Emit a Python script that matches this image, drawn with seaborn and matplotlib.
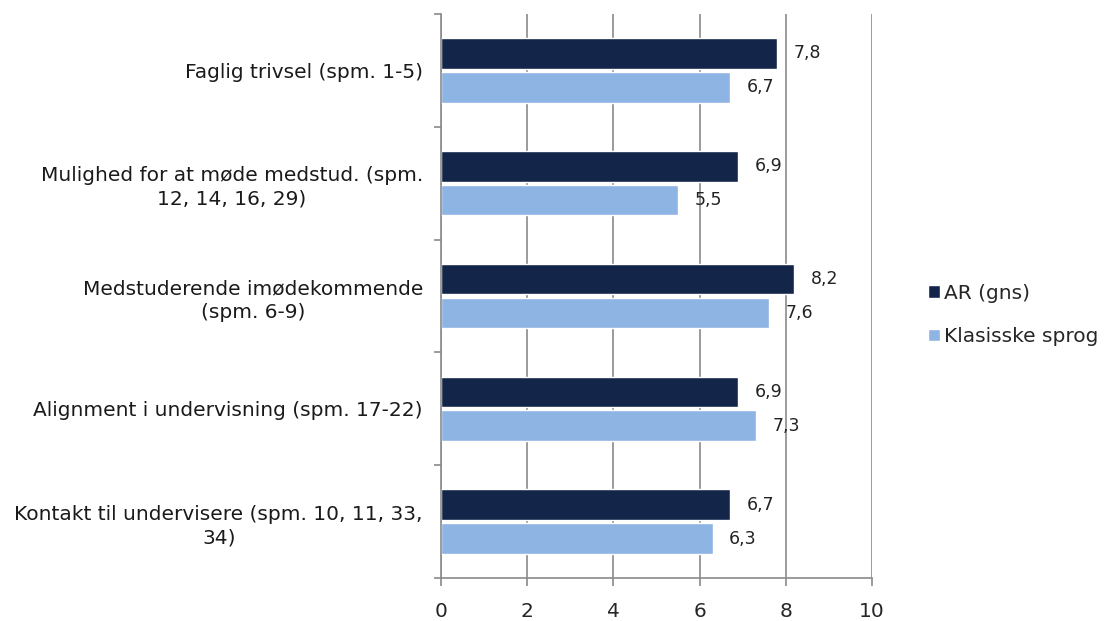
import numpy as np
import pandas as pd
import matplotlib
matplotlib.use("Agg")
import matplotlib.pyplot as plt
import seaborn as sns

# Data
categories = [
    "Faglig trivsel (spm. 1-5)",
    "Mulighed for at møde medstud. (spm.\n12, 14, 16, 29)",
    "Medstuderende imødekommende\n(spm. 6-9)",
    "Alignment i undervisning (spm. 17-22)",
    "Kontakt til undervisere (spm. 10, 11, 33,\n34)",
]
ar_values = [7.8, 6.9, 8.2, 6.9, 6.7]
klassisk_values = [6.7, 5.5, 7.6, 7.3, 6.3]
series_names = ["AR (gns)", "Klasisske sprog"]
colors = ["#13264A", "#8EB4E3"]

df = pd.DataFrame({
    "kategori": categories * 2,
    "værdi": ar_values + klassisk_values,
    "serie": [series_names[0]] * len(categories) + [series_names[1]] * len(categories),
})

sns.set_style("white")
plt.rcParams["font.family"] = ["DejaVu Sans"]

fig = plt.figure(figsize=(11.06, 6.21), dpi=100)
ax = fig.add_axes([441 / 1106, 1 - 578 / 621, (872 - 441) / 1106, (578 - 14) / 621])

sns.barplot(data=df, y="kategori", x="værdi", hue="serie", orient="h",
            palette=colors, saturation=1, width=0.6, gap=0.1, ax=ax, legend=True)

for cont in ax.containers:
    labels = [f"{v:.1f}".replace(".", ",") for v in cont.datavalues]
    ax.bar_label(cont, labels=labels, padding=12, fontsize=12.5, color="#222222")

ax.set_xlim(0, 10)
ax.set_ylim(len(categories) - 0.5, -0.5)
ax.set_xticks(np.arange(0, 11, 2))
ax.set_xticklabels([str(t) for t in range(0, 11, 2)], fontsize=14.5)
ax.xaxis.grid(True, color="#8a8a8a", linewidth=1.2)
ax.set_axisbelow(True)
ax.set_xlabel("")
ax.set_ylabel("")

# category labels, boundary ticks
ax.tick_params(axis="y", which="major", length=0, pad=13, labelsize=14.5)
ax.set_yticks(np.arange(-0.5, len(categories), 1), minor=True)
ax.tick_params(axis="y", which="minor", length=5, color="#8a8a8a", width=1.2, direction="out", left=True)
ax.tick_params(axis="x", length=6, color="#8a8a8a", width=1.2, direction="out", bottom=True, pad=11)
for lbl in ax.get_yticklabels():
    lbl.set_horizontalalignment("right")
    lbl.set_multialignment("center")
    lbl.set_linespacing(1.3)
    lbl.set_color("#1a1a1a")

for side in ["top", "right"]:
    ax.spines[side].set_visible(False)
for side in ["left", "bottom"]:
    ax.spines[side].set_color("#8a8a8a")
    ax.spines[side].set_linewidth(1.2)

handles, labels = ax.get_legend_handles_labels()
ax.legend_.remove()
fig.legend(handles, labels, loc="center left", bbox_to_anchor=(910 / 1106, 1 - 315 / 621),
           frameon=False, fontsize=14.5, handlelength=0.6, handleheight=0.6,
           handletextpad=0.2, labelspacing=1.2)

fig.savefig("out.png", dpi=100)
